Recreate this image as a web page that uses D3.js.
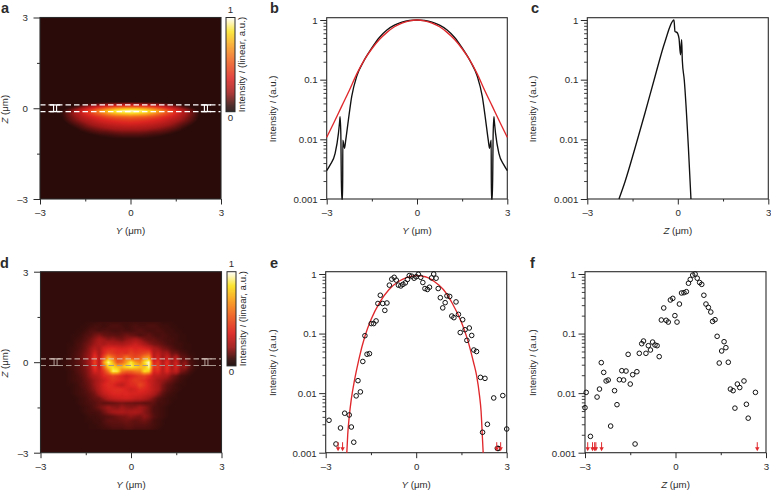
<!DOCTYPE html>
<html><head><meta charset="utf-8">
<script src="https://cdn.jsdelivr.net/npm/d3@7"></script>
<style>html,body{margin:0;padding:0;background:#fff}svg{display:block}text{font-family:"Liberation Sans",Arial,sans-serif;fill:#2b2b2b}</style>
</head><body><svg id="c" width="771" height="491"></svg>
<script>
// ---- data ----
const heatAY=[-3,-2.75,-2.5,-2.25,-2,-1.75,-1.5,-1.25,-1,-.75,-.5,-.25,0,.25,.5,.75,1,1.25,1.5,1.75,2,2.25,2.5,2.75,3];
const heatAZ=[.3,.2,.1,0,-.1,-.2,-.3,-.4,-.5,-.6,-.7,-.8,-.9,-1,-1.1,-1.2,-1.3];
const heatA=[
[0,0,0,0,0,0,0,0,0,0,0,0,0,0,0,0,0,0,0,0,0,0,0,0,0],
[0,0,0,0,0,0,0,1,2,3,3,4,5,4,3,3,2,1,0,0,0,0,0,0,0],
[0,0,0,0,2,5,10,15,20,24,27,29,30,29,27,24,20,15,10,5,2,0,0,0,0],
[0,0,1,3,8,15,25,35,46,56,64,69,70,69,64,56,46,35,25,15,8,3,1,0,0],
[0,0,2,6,14,25,38,52,68,80,90,96,99,96,90,80,68,52,38,25,14,6,2,0,0],
[0,0,2,7,15,24,34,44,54,64,72,76,78,76,72,64,54,44,34,24,15,7,2,0,0],
[0,0,2,6,13,20,28,34,40,46,50,52,54,52,50,46,40,34,28,20,13,6,2,0,0],
[0,0,1,5,11,17,23,28,33,36,39,41,42,41,39,36,33,28,23,17,11,5,1,0,0],
[0,0,0,3,8,13,18,23,27,30,32,34,35,34,32,30,27,23,18,13,8,3,0,0,0],
[0,0,0,2,5,9,14,18,21,24,26,27,28,27,26,24,21,18,14,9,5,2,0,0,0],
[0,0,0,1,3,6,10,13,16,18,20,21,21,21,20,18,16,13,10,6,3,1,0,0,0],
[0,0,0,0,2,4,6,9,11,12,14,15,15,15,14,12,11,9,6,4,2,0,0,0,0],
[0,0,0,0,1,2,4,5,7,8,9,10,10,10,9,8,7,5,4,2,1,0,0,0,0],
[0,0,0,0,0,1,2,3,4,5,6,6,6,6,6,5,4,3,2,1,0,0,0,0,0],
[0,0,0,0,0,0,1,1,2,3,3,3,4,3,3,3,2,1,1,0,0,0,0,0,0],
[0,0,0,0,0,0,0,0,1,1,1,2,2,2,1,1,1,0,0,0,0,0,0,0,0],
[0,0,0,0,0,0,0,0,0,0,0,0,0,0,0,0,0,0,0,0,0,0,0,0,0]];
const heatDY=[-2.4,-2.25,-2.1,-1.95,-1.8,-1.65,-1.5,-1.35,-1.2,-1.05,-.9,-.75,-.6,-.45,-.3,-.15,0,.15,.3,.45,.6,.75,.9,1.05,1.2,1.35,1.5,1.65,1.8,1.95,2.1,2.25,2.4];
const heatDZ=[1.35,1.2,1.05,.9,.75,.6,.45,.3,.15,0,-.15,-.3,-.45,-.6,-.75,-.9,-1.05,-1.2,-1.35,-1.5,-1.65,-1.8,-1.95,-2.1,-2.25];
const heatD=[
[6,6,6,6,6,6,7,7,7,8,8,8,8,8,8,8,8,8,8,8,8,8,8,7,7,7,6,6,6,6,6,6,6],
[6,6,6,6,6,7,7,8,9,9,8,9,10,10,9,8,9,10,9,9,10,10,9,8,8,7,7,6,6,6,6,6,6],
[6,6,6,6,7,7,8,10,10,9,10,10,9,9,10,9,9,10,11,10,9,9,10,9,8,8,7,7,6,6,6,6,6],
[6,6,6,7,7,8,10,11,14,16,13,12,12,11,12,14,13,12,10,11,12,10,9,10,9,8,8,7,7,6,6,6,6],
[6,6,6,7,8,9,11,14,18,22,20,17,18,16,15,18,20,22,19,15,13,13,11,10,9,9,8,7,7,6,6,6,6],
[6,6,7,7,9,10,13,16,20,24,22,26,24,24,22,25,27,31,27,22,18,15,14,12,10,9,8,8,7,7,6,6,6],
[6,6,7,8,9,11,14,19,25,22,33,36,38,35,34,35,38,35,37,35,31,23,20,16,14,11,9,8,7,7,6,6,6],
[6,6,7,8,10,12,16,20,34,22,36,46,42,38,40,38,44,40,42,46,50,24,28,20,22,14,14,10,9,7,7,6,6],
[6,7,7,9,10,13,17,22,42,24,48,72,58,46,48,62,50,46,52,66,70,26,34,20,32,18,26,13,12,9,7,6,6],
[6,7,8,9,11,13,17,24,46,24,70,95,75,50,55,70,88,70,62,85,98,34,42,24,38,20,32,14,18,10,8,7,6],
[6,7,8,9,10,13,16,22,42,26,55,82,84,76,76,86,90,84,78,76,95,40,44,26,40,22,34,18,20,12,8,7,6],
[6,6,7,8,10,12,15,20,34,30,42,60,90,88,60,55,55,60,62,85,80,34,38,26,36,24,28,16,13,9,7,6,6],
[6,6,7,8,9,11,14,19,24,28,36,40,44,40,36,30,34,38,42,44,38,28,27,24,22,16,13,9,8,7,6,6,6],
[6,6,7,8,9,10,13,16,20,25,30,36,40,38,35,33,38,42,40,38,31,27,21,19,16,13,10,8,7,6,6,6,6],
[6,6,7,7,8,10,12,15,20,26,34,38,36,30,27,33,37,38,46,40,33,26,22,16,12,10,8,7,7,6,6,6,6],
[6,6,6,7,8,9,11,14,18,25,32,36,37,38,37,34,31,33,38,36,32,27,22,15,11,9,8,7,6,6,6,6,6],
[6,6,6,7,8,9,10,12,15,21,28,32,35,36,35,36,34,34,33,31,28,23,17,12,9,8,7,6,6,6,6,6,6],
[6,6,6,6,7,8,9,11,13,14,19,25,28,30,31,32,31,28,27,24,20,15,11,9,8,7,7,6,6,6,6,6,6],
[6,6,6,6,7,8,9,10,11,13,12,12,13,14,15,14,14,13,13,12,12,12,9,9,8,7,6,6,6,6,6,6,6],
[6,6,6,6,6,7,8,9,11,14,17,20,18,17,20,18,17,18,20,18,14,10,9,8,7,6,6,6,6,6,6,6,6],
[6,6,6,6,6,7,8,9,9,10,14,18,21,22,23,21,22,23,21,17,14,10,9,8,7,6,6,6,6,6,6,6,6],
[6,6,6,6,6,6,7,8,8,9,10,11,12,14,15,16,18,16,15,18,15,11,9,8,7,6,6,6,6,6,6,6,6],
[6,6,6,6,6,6,7,7,8,8,10,12,12,12,13,14,13,12,13,14,12,9,8,7,6,6,6,6,6,6,6,6,6],
[6,6,6,6,6,6,6,7,7,8,9,10,11,11,11,12,12,11,11,11,10,9,8,7,6,6,6,6,6,6,6,6,6],
[6,6,6,6,6,6,6,7,7,7,8,8,9,9,9,10,10,9,9,9,9,8,7,6,6,6,6,6,6,6,6,6,6]];
const cmapStops=[0,.06,.2,.35,.55,.7,.85,1];
const cmapColors=['#140303','#2e0c0a','#a01818','#dc2420','#f0641e','#f8a01c','#fbe320','#ffffff'];
const bBlack=[[-3,.003],[-2.89,.0037],[-2.72,.0058],[-2.61,.0126],[-2.57,.02],[-2.555,.024],[-2.53,.012],[-2.505,.001],[-2.47,.001],[-2.465,.0097],[-2.44,.0085],[-2.41,.0071],[-2.37,.0095],[-2.28,.021],[-2.17,.052],[-2,.115],[-1.78,.2],[-1.5,.34],[-1.25,.51],[-1,.68],[-.75,.82],[-.5,.92],[-.25,.98],[0,1],[.25,.98],[.5,.92],[.75,.82],[1,.68],[1.25,.51],[1.5,.34],[1.78,.2],[2,.115],[2.17,.052],[2.28,.021],[2.37,.0095],[2.41,.0071],[2.44,.0085],[2.465,.0097],[2.47,.001],[2.505,.001],[2.53,.012],[2.555,.024],[2.57,.02],[2.61,.0126],[2.72,.0058],[2.89,.0037],[3,.003]];
const bRed=[[-3,.0108],[-2.75,.0195],[-2.5,.036],[-2.25,.066],[-2,.125],[-1.75,.215],[-1.5,.33],[-1.25,.47],[-1,.62],[-.75,.77],[-.5,.89],[-.25,.97],[0,1],[.25,.97],[.5,.89],[.75,.77],[1,.62],[1.25,.47],[1.5,.33],[1.75,.215],[2,.125],[2.25,.066],[2.5,.036],[2.75,.0195],[3,.0108]];
const cBlack=[[-1.95,.001],[-1.75,.00195],[-1.42,.0071],[-1.09,.0273],[-.757,.112],[-.425,.433],[-.127,1],[-.094,.64],[-.03,.62],[.04,.49],[.09,.26],[.127,.47],[.15,.21],[.215,.098],[.35,.0075],[.436,.001]];
const ePts=[[-2.89,.0035],[-2.66,.0014],[-2.51,.0026],[-2.37,.0046],[-2.22,.0043],[-2.15,.0027],[-2.07,.0015],[-1.99,.009],[-1.93,.0162],[-1.85,.0105],[-1.77,.034],[-1.7,.092],[-1.63,.045],[-1.55,.046],[-1.49,.147],[-1.41,.147],[-1.33,.163],[-1.27,.32],[-1.19,.44],[-1.11,.32],[-1.04,.245],[-.97,.326],[-.89,.65],[-.81,.82],[-.73,.88],[-.66,.79],[-.59,.65],[-.51,.63],[-.44,.67],[-.36,.71],[-.29,.81],[-.23,.94],[-.15,.92],[-.07,.85],[0,.9],[.07,.99],[.15,.88],[.22,.72],[.29,.57],[.37,.55],[.44,.6],[.51,.86],[.58,1],[.66,.85],[.73,.57],[.8,.4],[.88,.27],[.96,.33],[1.02,.43],[1.11,.42],[1.18,.197],[1.25,.185],[1.32,.34],[1.4,.21],[1.46,.104],[1.54,.171],[1.62,.116],[1.68,.077],[1.76,.124],[1.84,.093],[1.91,.053],[2,.05],[2.13,.0184],[2.28,.0177],[2.2,.0022],[2.36,.003],[2.57,.0083],[2.87,.0091],[3,.0025],[2.72,.00118],[2.69,.00118]];
const eRed=[[-2.3,.001],[-2.27,.002],[-2.22,.004],[-2.15,.008],[-2.05,.016],[-1.9,.037],[-1.7,.09],[-1.5,.17],[-1.2,.34],[-.9,.55],[-.6,.74],[-.3,.88],[0,.94],[.3,.9],[.6,.75],[.9,.55],[1.2,.32],[1.5,.155],[1.7,.08],[1.9,.033],[2,.02],[2.1,.009],[2.15,.005],[2.2,.0016],[2.22,.001]];
const eArrows=[-2.59,-2.44,2.67,2.8];
const fPts=[[-3,.0057],[-2.96,.0103],[-2.82,.00188],[-2.6,.0086],[-2.52,.0117],[-2.46,.0325],[-2.38,.0223],[-2.3,.016],[-2.23,.0166],[-2.15,.0028],[-2.02,.011],[-1.94,.0064],[-1.86,.0168],[-1.78,.0238],[-1.72,.0166],[-1.64,.0235],[-1.57,.0448],[-1.5,.0142],[-1.42,.0204],[-1.34,.0014],[-1.28,.0229],[-1.2,.0466],[-1.12,.0676],[-1.06,.075],[-.98,.0466],[-.9,.0626],[-.83,.053],[-.76,.072],[-.68,.0643],[-.61,.0626],[-.54,.041],[-.47,.169],[-.39,.269],[-.31,.167],[-.24,.156],[-.17,.366],[-.09,.39],[-.02,.2],[.05,.156],[.13,.313],[.2,.48],[.28,.486],[.36,.505],[.43,.7],[.49,.81],[.57,.96],[.65,1],[.72,.85],[.8,.72],[.87,.67],[.94,.44],[1.01,.313],[1.09,.275],[1.17,.23],[1.23,.16],[1.31,.171],[1.38,.09],[1.45,.032],[1.53,.051],[1.61,.073],[1.67,.058],[1.75,.033],[1.82,.0117],[1.91,.011],[1.97,.0056],[2.05,.0142],[2.13,.0124],[2.27,.016],[2.35,.0065],[2.41,.0038],[2.65,.0103]];
const fArrows=[-2.91,-2.75,-2.68,-2.64,-2.45,2.71];
const xTicks=[-3,-1.5,0,1.5,3];
const xMajor=[-3,0,3];
const logMajor=[1,.1,.01,.001];
const logMinor=[.9,.8,.7,.6,.5,.4,.3,.2,.09,.08,.07,.06,.05,.04,.03,.02,.009,.008,.007,.006,.005,.004,.003,.002];
// ---- helpers ----
const svg=d3.select('#c');
const ink='#2b2b2b';
const fmt=v=>v<0?'\u2013'+Math.abs(v):String(v);
const cmap=d3.scaleLinear().domain(cmapStops).range(cmapColors).clamp(true);
function label(parent,x,y,parts,opts={}){
  const t=parent.append('text').attr('text-anchor','middle').attr('font-size',opts.size||9.7);
  if(opts.rot) t.attr('transform',`translate(${x},${y}) rotate(-90)`); else t.attr('x',x).attr('y',y);
  parts.forEach(p=>{const s=t.append('tspan').text(p[0]); if(p[1]) s.attr('font-style','italic');});
}
function xAxis(g,x,y0){
  const a=g.append('g').attr('transform',`translate(0,${y0})`).call(d3.axisBottom(x).tickValues(xTicks).tickFormat(d=>xMajor.includes(d)?fmt(d):'').tickSizeOuter(0).tickSize(5.5).tickPadding(5));
  a.select('.domain').remove();
  a.selectAll('.tick line').attr('stroke',ink).attr('stroke-width',1).attr('y2',d=>xMajor.includes(d)?5.5:2.5).attr('y1',0);
  a.selectAll('.tick text').attr('font-size',9.7).attr('font-family','Liberation Sans').attr('fill',ink).attr('dy','0.71em').attr('y',10);
}
function frame(g,x0,x1,y0,y1){
  g.append('rect').attr('x',x0).attr('y',y0).attr('width',x1-x0).attr('height',y1-y0).attr('fill','none').attr('stroke',ink).attr('stroke-width',1.1);
}
function heat(g,X,Z,M,x,z,bg){
  const x0=x.range()[0],x1=x.range()[1],y0=z.range()[1],y1=z.range()[0];
  const w=Math.round(x1-x0),h=Math.round(y1-y0);
  const cv=document.createElement('canvas');cv.width=w;cv.height=h;
  const ctx=cv.getContext('2d');
  const xi=d3.scaleLinear().domain(X).range(X.map((_,i)=>i));
  const zi=d3.scaleLinear().domain(Z).range(Z.map((_,i)=>i));
  for(let py=0;py<h;py++)for(let px=0;px<w;px++){
    const yv=x.invert(x0+px+.5), zv=z.invert(y0+py+.5);
    let v=bg;
    if(yv>=X[0]&&yv<=X[X.length-1]&&zv<=Z[0]&&zv>=Z[Z.length-1]){
      const fx=xi(yv),fz=zi(zv),i=Math.min(Math.floor(fx),X.length-2),j=Math.min(Math.floor(fz),Z.length-2),a=fx-i,b=fz-j;
      v=Math.max(bg,(M[j][i]*(1-a)+M[j][i+1]*a)*(1-b)+(M[j+1][i]*(1-a)+M[j+1][i+1]*a)*b);
    }
    ctx.fillStyle=cmap(v/100);ctx.fillRect(px,py,1,1);
  }
  g.append('image').attr('x',x0).attr('y',y0).attr('width',x1-x0).attr('height',y1-y0).attr('preserveAspectRatio','none').attr('href',cv.toDataURL());
}
function heatPanel(o){
  const g=svg.append('g');
  const x=d3.scaleLinear().domain([-3,3]).range([o.x0,o.x1]);
  const z=d3.scaleLinear().domain([-3,3]).range([o.y1,o.y0]);
  heat(g,o.X,o.Z,o.M,x,z,o.bg);
  [.11,-.11].forEach((d,i)=>g.append('line').attr('x1',x(-3)).attr('x2',x(3)).attr('y1',z(d)).attr('y2',z(d)).attr('stroke',o.dash[i]).attr('stroke-width',o.dw).attr('stroke-dasharray','5.5 3'));
  [-2.5,2.5].forEach(c=>{
    [.11,-.11].forEach((d,i)=>g.append('line').attr('x1',x(c-.17)).attr('x2',x(c+.17)).attr('y1',z(d)).attr('y2',z(d)).attr('stroke',o.dash[i]).attr('stroke-width',o.dw));
    [-.05,.05].forEach(e=>g.append('line').attr('x1',x(c+e)).attr('x2',x(c+e)).attr('y1',z(.11)).attr('y2',z(-.11)).attr('stroke',o.dash[0]).attr('stroke-width',o.dw*.8));
  });
  frame(g,o.x0,o.x1,o.y0,o.y1);
  xAxis(g,x,o.y1);
  const ya=g.append('g').attr('transform',`translate(${o.x0},0)`).call(d3.axisLeft(z).tickValues(xTicks).tickFormat(d=>xMajor.includes(d)?fmt(d):'').tickSizeOuter(0).tickSize(6.5).tickPadding(6));
  ya.select('.domain').remove();
  ya.selectAll('.tick line').attr('stroke',ink).attr('x2',d=>xMajor.includes(d)?-6.5:-3);
  ya.selectAll('.tick text').attr('font-size',9.7).attr('fill',ink).attr('x',-12).attr('dy','0.34em');
  label(g,(o.x0+o.x1)/2,o.y1+35,[['Y',1],[' (\u03bcm)']]);
  label(g,8,(o.y0+o.y1)/2+1,[['Z',1],[' (\u03bcm)']],{rot:1});
  const by=d3.scaleLinear().domain([0,1]).range([o.y0+94.2,o.y0]);
  d3.range(0,94).forEach(i=>g.append('rect').attr('x',o.bx).attr('y',o.y0+i).attr('width',9).attr('height',1.2).attr('fill',cmap(by.invert(o.y0+i+.5))));
  g.append('rect').attr('x',o.bx).attr('y',by(1)).attr('width',9).attr('height',by(0)-by(1)).attr('fill','none').attr('stroke',ink).attr('stroke-width',1);
  g.append('text').attr('x',o.bx+4.5).attr('y',o.y0-4.5).attr('text-anchor','middle').attr('font-size',9.7).text('1');
  g.append('text').attr('x',o.bx+4.5).attr('y',by(0)+9.5).attr('text-anchor','middle').attr('font-size',9.7).text('0');
  label(g,o.bx+19,o.y0+47,o.barLabel,{rot:1,size:9.7});
  g.append('text').attr('x',o.lx).attr('y',o.ly).attr('font-size',14.5).attr('font-weight','bold').attr('fill','#111').text(o.letter);
}
function logPanel(o){
  const g=svg.append('g');
  const x=d3.scaleLinear().domain([-3,3]).range([o.x0,o.x1]);
  const y=d3.scaleLog().domain([.001,1]).range([o.y1,o.yTop]);
  const line=d3.line().x(d=>x(d[0])).y(d=>y(d[1])).curve(d3.curveMonotoneX);
  frame(g,o.x0,o.x1,o.y0,o.y1);
  const ya=g.append('g').attr('transform',`translate(${o.x0},0)`).call(d3.axisLeft(y).tickValues(logMajor).tickFormat(d=>String(d)).tickSizeOuter(0).tickSize(6.5).tickPadding(5));
  ya.select('.domain').remove();
  ya.selectAll('.tick line').attr('stroke',ink);
  ya.selectAll('.tick text').attr('font-size',9.7).attr('fill',ink).attr('x',-9).attr('dy','0.34em');
  const mn=g.append('g').attr('transform',`translate(${o.x0},0)`).call(d3.axisLeft(y).tickValues(logMinor).tickFormat('').tickSizeOuter(0).tickSize(3.2));
  mn.select('.domain').remove();
  mn.selectAll('.tick line').attr('stroke',ink).attr('stroke-width',.9);
  xAxis(g,x,o.y1);
  (o.lines||[]).forEach(l=>g.append('path').attr('d',line(l.d)).attr('fill','none').attr('stroke',l.c).attr('stroke-width',1.35).attr('stroke-linejoin','round'));
  if(o.pts) g.selectAll('circle.p').data(o.pts).join('circle').attr('class','p').attr('cx',d=>x(d[0])).attr('cy',d=>y(d[1])).attr('r',2.3).attr('fill','none').attr('stroke','#111').attr('stroke-width',1);
  (o.arrows||[]).forEach(a=>{
    const px=x(a),py=o.y1-1.5;
    g.append('line').attr('x1',px).attr('x2',px).attr('y1',py-9).attr('y2',py-2).attr('stroke','#e0282c').attr('stroke-width',1);
    g.append('path').attr('d',d3.line()([[px-2.2,py-4],[px+2.2,py-4],[px,py]])+'Z').attr('fill','#e0282c');
  });
  label(g,(o.x0+o.x1)/2,o.y1+35,[[o.xl,1],[' (\u03bcm)']]);
  label(g,o.yx,(o.y0+o.y1)/2+.5,[['Intensity '],['I',1],[' (a.u.)']],{rot:1});
  g.append('text').attr('x',o.lx).attr('y',o.ly).attr('font-size',14.5).attr('font-weight','bold').attr('fill','#111').text(o.letter);
}
// ---- panels ----
heatPanel({x0:40,x1:221,y0:17.5,y1:199,X:heatAY,Z:heatAZ,M:heatA,bg:5,bx:226,dash:['#fff','#fff'],dw:1.4,letter:'a',lx:1,ly:13.2,barLabel:[['Intensity '],['I',1],[' (linear, a.u.)']]});
heatPanel({x0:40.5,x1:221.5,y0:271.7,y1:452.7,X:heatDY,Z:heatDZ,M:heatD,bg:6.5,bx:227,dash:['#d8c8c0','#a89890'],dw:1,letter:'d',lx:0,ly:268,barLabel:[['Intensity '],['I',1],[' (linear, a.u.)']]});
logPanel({x0:326.7,x1:507.3,y0:17.7,yTop:20,y1:199,xl:'Y',yx:276,lines:[{d:bBlack,c:'#111'},{d:bRed,c:'#e0282c'}],letter:'b',lx:270,ly:13.2});
logPanel({x0:587.3,x1:768.3,y0:17.7,yTop:20,y1:199,xl:'Z',yx:536,lines:[{d:cBlack,c:'#111'}],letter:'c',lx:531,ly:13.2});
logPanel({x0:325.7,x1:506.7,y0:271.7,yTop:274,y1:452.7,xl:'Y',yx:276,lines:[{d:eRed,c:'#e0282c'}],pts:ePts,arrows:eArrows,letter:'e',lx:270,ly:268});
logPanel({x0:585,x1:766,y0:271.7,yTop:274,y1:452.7,xl:'Z',yx:536,pts:fPts,arrows:fArrows,letter:'f',lx:530,ly:268});
</script></body></html>
